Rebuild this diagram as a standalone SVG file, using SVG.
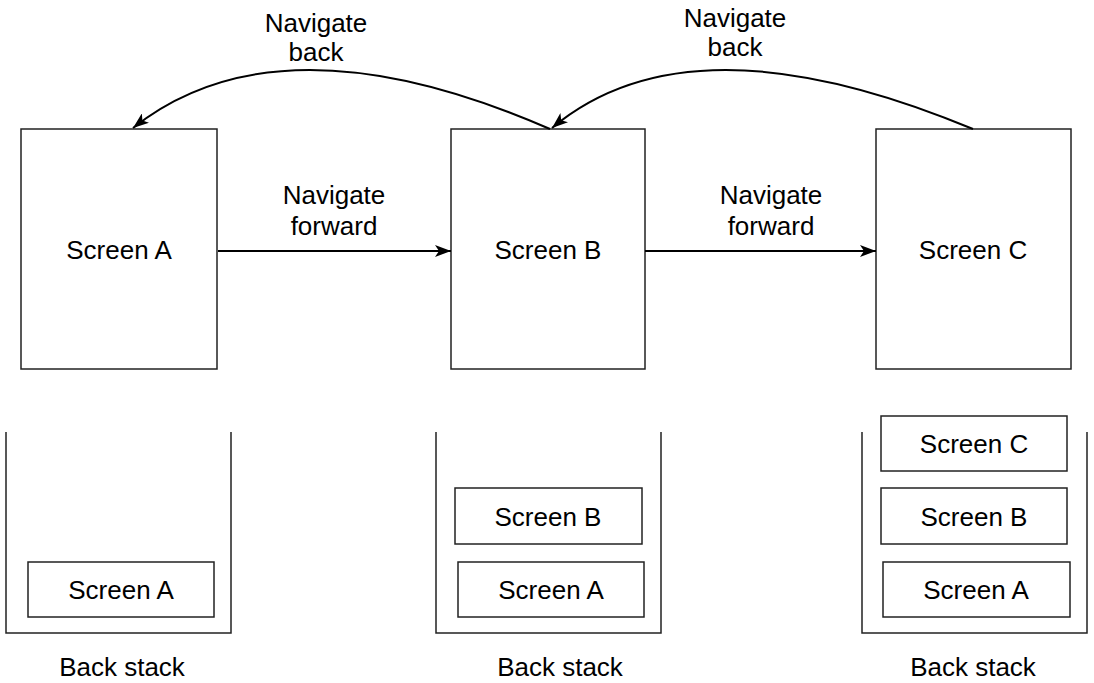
<svg xmlns="http://www.w3.org/2000/svg" width="1094" height="683" viewBox="0 0 1094 683">
<style>
.box{fill:#fff;stroke:#222;stroke-width:1.5}
.stack{fill:none;stroke:#222;stroke-width:1.5}
.edge{fill:none;stroke:#000;stroke-width:2}
text{font-family:"Liberation Sans",Arial,sans-serif;font-size:26px;fill:#000;text-anchor:middle}
</style>
<defs>
<marker id="arr" viewBox="0 0 16 12" refX="16" refY="6" markerWidth="16" markerHeight="12" markerUnits="userSpaceOnUse" orient="auto">
<path d="M0,0 L16,6 L0,12 L4,6 z" fill="#000"/>
</marker>
</defs>
<rect width="1094" height="683" fill="#fff"/>
<g id="screenA">
<rect class="box" x="21" y="129" width="196" height="240"/>
<text x="119" y="259">Screen A</text>
</g>
<g id="screenB">
<rect class="box" x="451" y="129" width="194" height="240"/>
<text x="548" y="259">Screen B</text>
</g>
<g id="screenC">
<rect class="box" x="876" y="129" width="195" height="240"/>
<text x="973" y="259">Screen C</text>
</g>
<g id="connectors">
<path class="edge" d="M218,251 L451,251" marker-end="url(#arr)"/>
<path class="edge" d="M645,251 L876,251" marker-end="url(#arr)"/>
<path class="edge" d="M550,129 Q280,11.5 133,128" marker-end="url(#arr)"/>
<path class="edge" d="M973,129 Q691,11.5 552,128" marker-end="url(#arr)"/>
<text x="334" y="204">Navigate</text>
<text x="334" y="235">forward</text>
<text x="771" y="204">Navigate</text>
<text x="771" y="235">forward</text>
<text x="316" y="32">Navigate</text>
<text x="316" y="61">back</text>
<text x="735" y="27">Navigate</text>
<text x="735" y="56">back</text>
</g>
<g id="stack1">
<path class="stack" d="M6,432 L6,633 L231,633 L231,432"/>
<rect class="box" x="28" y="562" width="186" height="55"/>
<text x="121" y="599">Screen A</text>
<text x="122" y="676">Back stack</text>
</g>
<g id="stack2">
<path class="stack" d="M436,432 L436,633 L661,633 L661,432"/>
<rect class="box" x="455" y="488" width="187" height="56"/>
<text x="548" y="526">Screen B</text>
<rect class="box" x="458" y="562" width="186" height="55"/>
<text x="551" y="599">Screen A</text>
<text x="560" y="676">Back stack</text>
</g>
<g id="stack3">
<path class="stack" d="M862,432 L862,633 L1087,633 L1087,432"/>
<rect class="box" x="881" y="416" width="186" height="55"/>
<text x="974" y="453">Screen C</text>
<rect class="box" x="881" y="488" width="186" height="56"/>
<text x="974" y="526">Screen B</text>
<rect class="box" x="883" y="562" width="187" height="55"/>
<text x="976" y="599">Screen A</text>
<text x="973" y="676">Back stack</text>
</g>
</svg>
